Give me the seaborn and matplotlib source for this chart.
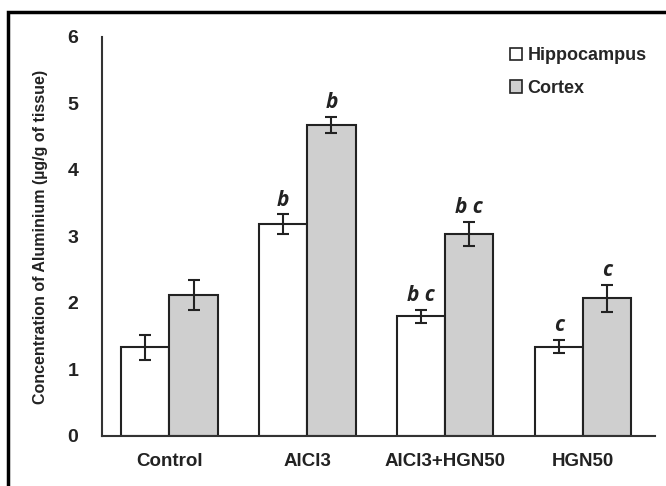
import seaborn as sns, pandas as pd
import matplotlib.pyplot as plt
from matplotlib.patches import Rectangle

groups = ['Control', 'AlCl3', 'AlCl3+HGN50', 'HGN50']
tissues = ['Hippocampus', 'Cortex']
hippocampus = [1.33, 3.18, 1.80, 1.34]
cortex = [2.12, 4.67, 3.03, 2.07]
hippocampus_err = [0.19, 0.15, 0.10, 0.10]
cortex_err = [0.23, 0.12, 0.18, 0.20]
hippocampus_sig = ['', 'b', 'b c', 'c']
cortex_sig = ['', 'b', 'b c', 'c']

def compose_data():
    rows = []
    for i, g in enumerate(groups):
        rows.append([g, 'Hippocampus', hippocampus[i], hippocampus_err[i], hippocampus_sig[i]])
        rows.append([g, 'Cortex', cortex[i], cortex_err[i], cortex_sig[i]])
    return pd.DataFrame(rows, columns=['group', 'tissue', 'value', 'err', 'sig'])

data = compose_data()

sns.set_style('white')
plt.rcParams['font.family'] = ['Liberation Sans', 'DejaVu Sans']

fig = plt.figure(figsize=(6.66, 4.86), dpi=100)
ax = fig.add_axes([0.153, 0.103, 0.83, 0.821])

sns.barplot(x='group', y='value', hue='tissue', data=data, order=groups, hue_order=tissues,
            palette={'Hippocampus': 'white', 'Cortex': '#cfcfcf'}, width=0.7,
            edgecolor='#222222', linewidth=1.5, errorbar=None, ax=ax)

errs = [hippocampus_err, cortex_err]
vals = [hippocampus, cortex]
sigs = [hippocampus_sig, cortex_sig]
bar_sets = list(ax.containers)
for k, cont in enumerate(bar_sets):
    for i, bar in enumerate(cont.patches):
        xc = bar.get_x() + bar.get_width() / 2
        ax.errorbar(xc, vals[k][i], yerr=errs[k][i], fmt='none', ecolor='#222222',
                    elinewidth=1.5, capsize=4, capthick=1.5)
        if sigs[k][i]:
            ax.text(xc, vals[k][i] + errs[k][i] + 0.06, sigs[k][i], ha='center', va='bottom',
                    fontsize=15, fontweight='bold', fontstyle='italic', family='Open Sans',
                    color='#222222')

ax.set_ylim(0, 6)
ax.set_xlim(-0.49, 3.52)
ax.set_yticks(range(7))
ax.set_xlabel('')
ax.set_ylabel('Concentration of Aluminium (µg/g of tissue)', fontsize=11.5, fontweight='bold',
              color='#222222', labelpad=14)
for s in ['top', 'right']:
    ax.spines[s].set_visible(False)
for s in ['left', 'bottom']:
    ax.spines[s].set_color('#333333')
    ax.spines[s].set_linewidth(1.5)
ax.tick_params(axis='y', direction='inout', length=10, width=1.5, color='#333333',
               labelsize=14, pad=12)
ax.tick_params(axis='x', length=0, labelsize=13.5, pad=12)
for lab in ax.get_xticklabels() + ax.get_yticklabels():
    lab.set_fontweight('bold')
    lab.set_color('#222222')

leg = ax.legend(loc='upper right', bbox_to_anchor=(1.015, 1.015), frameon=False,
                handlelength=0.7, handleheight=0.7, handletextpad=0.3,
                labelspacing=0.85, prop={'weight': 'bold', 'size': 13})
for h in leg.legend_handles:
    h.set_linewidth(1.2)

fig.add_artist(Rectangle((0.012, -0.05), 1.0, 1.025, transform=fig.transFigure,
                         fill=False, edgecolor='black', linewidth=2.5, clip_on=False))

plt.savefig('out.png', dpi=100)
